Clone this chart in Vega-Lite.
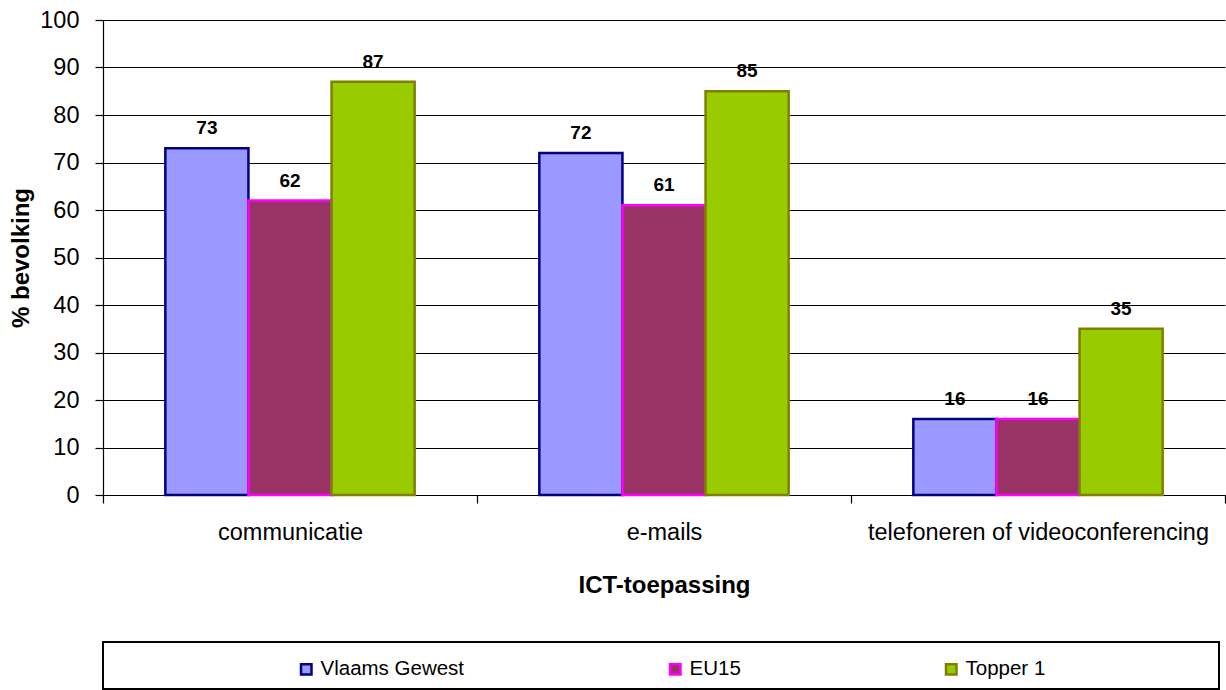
{
  "$schema": "https://vega.github.io/schema/vega-lite/v6.json",
  "padding": {"left": 9, "top": 8, "right": 0, "bottom": 0},
  "autosize": {"type": "pad"},
  "spacing": 147,
  "bounds": "flush",
  "config": {
    "font": "Liberation Sans",
    "view": {"stroke": null},
    "axis": {
      "domainColor": "black",
      "domainWidth": 1.2,
      "tickColor": "black",
      "tickWidth": 1.2,
      "tickSize": 8,
      "labelColor": "black",
      "labelFontSize": 23.5,
      "labelFont": "Liberation Sans",
      "labelLimit": 600,
      "titleColor": "black",
      "titleFontSize": 24,
      "titleFontWeight": "bold",
      "titleFont": "Liberation Sans"
    },
    "text": {"font": "Liberation Sans"}
  },
  "datasets": {
    "pct": [
      {"toepassing": "communicatie", "reeks": "Vlaams Gewest", "pct": 73},
      {"toepassing": "communicatie", "reeks": "EU15", "pct": 62},
      {"toepassing": "communicatie", "reeks": "Topper 1", "pct": 87},
      {"toepassing": "e-mails", "reeks": "Vlaams Gewest", "pct": 72},
      {"toepassing": "e-mails", "reeks": "EU15", "pct": 61},
      {"toepassing": "e-mails", "reeks": "Topper 1", "pct": 85},
      {"toepassing": "telefoneren of videoconferencing", "reeks": "Vlaams Gewest", "pct": 16},
      {"toepassing": "telefoneren of videoconferencing", "reeks": "EU15", "pct": 16},
      {"toepassing": "telefoneren of videoconferencing", "reeks": "Topper 1", "pct": 35}
    ]
  },
  "vconcat": [
    {
      "width": 1122,
      "height": 475,
      "data": {"name": "pct"},
      "encoding": {
        "x": {
          "field": "toepassing",
          "type": "nominal",
          "sort": ["communicatie", "e-mails", "telefoneren of videoconferencing"],
          "scale": {"paddingInner": 0, "paddingOuter": 0},
          "axis": {
            "title": "ICT-toepassing",
            "labelAngle": 0,
            "tickBand": "extent",
            "labelPadding": 17,
            "titlePadding": 30,
            "grid": false
          }
        },
        "xOffset": {
          "field": "reeks",
          "type": "nominal",
          "sort": ["Vlaams Gewest", "EU15", "Topper 1"],
          "scale": {"paddingInner": 0, "paddingOuter": 0.75}
        },
        "y": {
          "field": "pct",
          "type": "quantitative",
          "scale": {"domain": [0, 100]},
          "axis": {
            "title": "% bevolking",
            "values": [0, 10, 20, 30, 40, 50, 60, 70, 80, 90, 100],
            "grid": true,
            "gridColor": "black",
            "gridWidth": 1,
            "gridOpacity": 1,
            "labelPadding": 16,
            "titlePadding": 6
          }
        }
      },
      "layer": [
        {
          "mark": {"type": "bar", "strokeWidth": 2.5},
          "encoding": {
            "fill": {
              "field": "reeks",
              "type": "nominal",
              "sort": ["Vlaams Gewest", "EU15", "Topper 1"],
              "scale": {"domain": ["Vlaams Gewest", "EU15", "Topper 1"], "range": ["#9999FF", "#993366", "#99CC00"]},
              "legend": {
                "title": null,
                "orient": "none",
                "legendX": 193,
                "legendY": 639,
                "direction": "horizontal",
                "symbolType": "square",
                "symbolSize": 110,
                "symbolStrokeWidth": 2.5,
                "labelFontSize": 20.5,
                "labelColor": "black",
                "labelOffset": 4,
                "columnPadding": 200,
                "padding": 0
              }
            },
            "stroke": {
              "field": "reeks",
              "type": "nominal",
              "sort": ["Vlaams Gewest", "EU15", "Topper 1"],
              "scale": {"domain": ["Vlaams Gewest", "EU15", "Topper 1"], "range": ["#000080", "#FF00FF", "#808000"]},
              "legend": {
                "title": null,
                "orient": "none",
                "legendX": 193,
                "legendY": 639,
                "direction": "horizontal",
                "symbolType": "square",
                "symbolSize": 110,
                "symbolStrokeWidth": 2.5,
                "labelFontSize": 20.5,
                "labelColor": "black",
                "labelOffset": 4,
                "columnPadding": 200,
                "padding": 0
              }
            }
          }
        },
        {
          "mark": {"type": "text", "fontWeight": "bold", "fontSize": 19, "baseline": "middle", "dy": -20, "color": "black"},
          "encoding": {"text": {"field": "pct", "type": "quantitative"}}
        }
      ]
    },
    {
      "width": 1116,
      "height": 47,
      "view": {"stroke": "black", "strokeWidth": 2},
      "data": {"values": [{}]},
      "mark": {"type": "point", "opacity": 0},
      "encoding": {}
    }
  ]
}
